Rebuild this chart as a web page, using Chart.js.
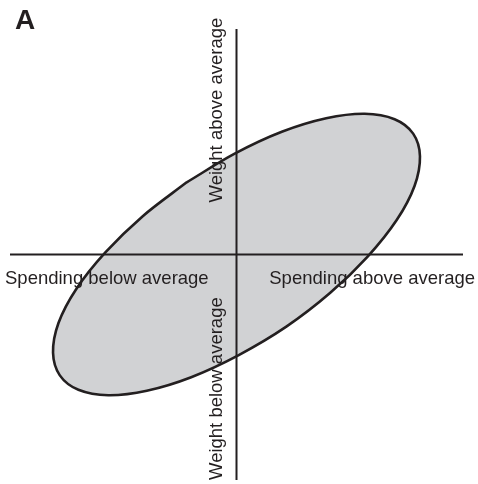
<!DOCTYPE html>
<html>
<head>
<meta charset="utf-8">
<script src="https://cdn.jsdelivr.net/npm/chart.js@4.4.0/dist/chart.umd.min.js"></script>
<style>
  body { margin: 0; background: #fff; }
  #chart1 { display: block; }
</style>
</head>
<body>
<canvas id="chart1" width="478" height="484"></canvas>
<script>
// axis range (standardised units, 0 = average)
const axisMin = -5;
const axisMax = 5;

// outline of the spending/weight cloud (x = spending, y = weight)
const outlineX = [-1.10, -2.07, -2.90, -3.54, -3.93, -4.05, -3.90, -3.49, -2.83, -1.98, -1.00, 0.05,
  1.10, 2.07, 2.90, 3.54, 3.93, 4.05, 3.90, 3.49, 2.83, 1.98, 1.00, -0.05, -1.10];
const outlineY = [1.60, 0.85, 0.04, -0.77, -1.52, -2.18, -2.68, -3.00, -3.12, -3.02, -2.72, -2.23,
  -1.60, -0.85, -0.04, 0.77, 1.52, 2.18, 2.68, 3.00, 3.12, 3.02, 2.72, 2.23, 1.60];

// axis labels
const panelLabel = "A";
const xLabels = ["Spending below average", "Spending above average"];
const yLabels = ["Weight above average", "Weight below average"];

const ink = '#231f20';

const outline = outlineX.map((x, i) => ({ x: x, y: outlineY[i] }));

//text labels drawn on top of the datasets
const labelPlugin = {
  id: 'labels',
  afterDatasetsDraw(chart) {
    const ctx = chart.ctx;
    const xs = chart.scales.x;
    const ys = chart.scales.y;
    const area = chart.chartArea;
    const x0 = xs.getPixelForValue(0);
    const y0 = ys.getPixelForValue(0);
    ctx.save();
    ctx.fillStyle = ink;
    ctx.textBaseline = 'alphabetic';
    ctx.font = 'bold 28px "Liberation Sans", Arial, sans-serif';
    ctx.textAlign = 'left';
    ctx.fillText(panelLabel, 15, 29);

    ctx.font = '18.5px "Liberation Sans", Arial, sans-serif';
    ctx.textAlign = 'left';
    ctx.fillText(xLabels[0], area.left - 5, y0 + 29);
    ctx.textAlign = 'right';
    ctx.fillText(xLabels[1], area.right + 12, y0 + 29);

    //vertical labels read bottom to top
    ctx.textAlign = 'left';
    ctx.save();
    ctx.translate(x0 - 15, y0 - 52);
    ctx.rotate(-Math.PI / 2);
    ctx.fillText(yLabels[0], 0, 0);
    ctx.restore();
    ctx.save();
    ctx.translate(x0 - 15, area.bottom);
    ctx.rotate(-Math.PI / 2);
    ctx.fillText(yLabels[1], 0, 0);
    ctx.restore();
    ctx.restore();
  }
};

const chart1 = new Chart(document.getElementById('chart1'), {
  type: 'line',
  data: {
    datasets: [
      {
        data: outline,
        borderColor: ink,
        borderWidth: 2.6,
        backgroundColor: '#d1d2d4',
        fill: 'shape',
        tension: 0.33,
        pointRadius: 0,
        clip: false,
        order: 2
      },
      {
        data: [{ x: axisMin, y: 0 }, { x: axisMax, y: 0 }],
        borderColor: ink,
        borderWidth: 2,
        pointRadius: 0,
        fill: false,
        clip: false,
        order: 1
      },
      {
        data: [{ x: 0, y: axisMin }, { x: 0, y: axisMax }],
        borderColor: ink,
        borderWidth: 2,
        pointRadius: 0,
        fill: false,
        clip: false,
        order: 1
      }
    ]
  },
  options: {
    responsive: false,
    animation: false,
    layout: { padding: { left: 10, right: 15, top: 29, bottom: 4 } },
    plugins: { legend: { display: false }, tooltip: { enabled: false } },
    scales: {
      x: { type: 'linear', min: axisMin, max: axisMax, display: false },
      y: { type: 'linear', min: axisMin, max: axisMax, display: false }
    }
  },
  plugins: [labelPlugin]
});
</script>
</body>
</html>
